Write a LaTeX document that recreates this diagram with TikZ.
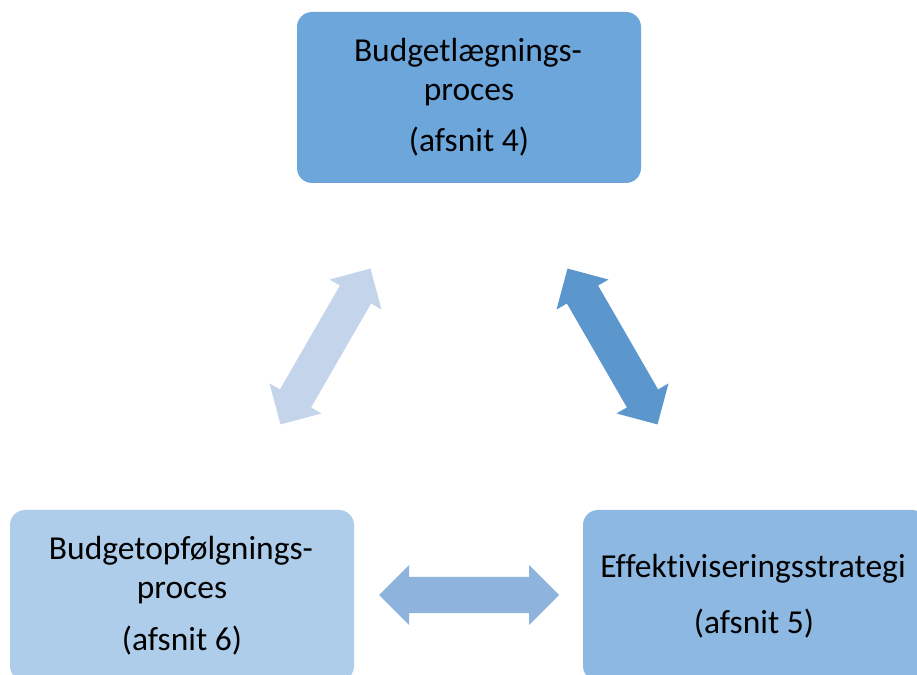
\documentclass[tikz,border=0pt]{standalone}
\usepackage{fontspec}
\setmainfont[Ligatures={NoCommon}]{Carlito}
\definecolor{topbox}{HTML}{6CA6DB}
\definecolor{rightbox}{HTML}{8DB8E2}
\definecolor{leftbox}{HTML}{AECDEA}
\definecolor{arrowL}{HTML}{C4D5EB}
\definecolor{arrowR}{HTML}{5B96CD}
\definecolor{arrowB}{HTML}{8EB3DD}
\begin{document}
\begin{tikzpicture}[x=1pt,y=1pt,
  box/.style={rounded corners=15pt},
  lbl/.style={anchor=base,inner sep=0pt,font=\fontsize{33.5}{40}\selectfont},
  blockarrow/.style={draw=none}]
\useasboundingbox (0,0) rectangle (917,674);
\clip (0,0) rectangle (917,674);
\fill[white] (0,0) rectangle (917,674);
% boxes
\fill[topbox,box] (297,491) rectangle (641,662);
\fill[leftbox,box] (10,-7) rectangle (354,164);
\fill[rightbox,box] (583,-7) rectangle (927,164);
% labels
\node[lbl] (t1) at (468,612) {Budgetlægnings-};
\node[lbl] (t2) at (469,573) {proces};
\node[lbl] (t3) at (469,522) {(afsnit 4)};
\node[lbl] (l1) at (181,114) {Budgetopfølgnings-};
\node[lbl] (l2) at (182,75) {proces};
\node[lbl] (l3) at (182,24) {(afsnit 6)};
\node[lbl] (r1) at (753,96) {Effektiviseringsstrategi};
\node[lbl] (r2) at (754,41) {(afsnit 5)};
% arrows
\coordinate (aL) at (325.5,327.5);
\coordinate (aR) at (612.5,327.5);
\coordinate (aB) at (469,79);
\begin{scope}[shift={(aL)},rotate=60]
\fill[arrowL,blockarrow] (-90,0) -- (-60,30) -- (-60,18) -- (60,18) -- (60,30) -- (90,0) -- (60,-30) -- (60,-18) -- (-60,-18) -- (-60,-30) -- cycle;
\end{scope}
\begin{scope}[shift={(aR)},rotate=-60]
\fill[arrowR,blockarrow] (-90,0) -- (-60,30) -- (-60,18) -- (60,18) -- (60,30) -- (90,0) -- (60,-30) -- (60,-18) -- (-60,-18) -- (-60,-30) -- cycle;
\end{scope}
\begin{scope}[shift={(aB)}]
\fill[arrowB,blockarrow] (-90,0) -- (-60,30) -- (-60,18) -- (60,18) -- (60,30) -- (90,0) -- (60,-30) -- (60,-18) -- (-60,-18) -- (-60,-30) -- cycle;
\end{scope}
\end{tikzpicture}
\end{document}
